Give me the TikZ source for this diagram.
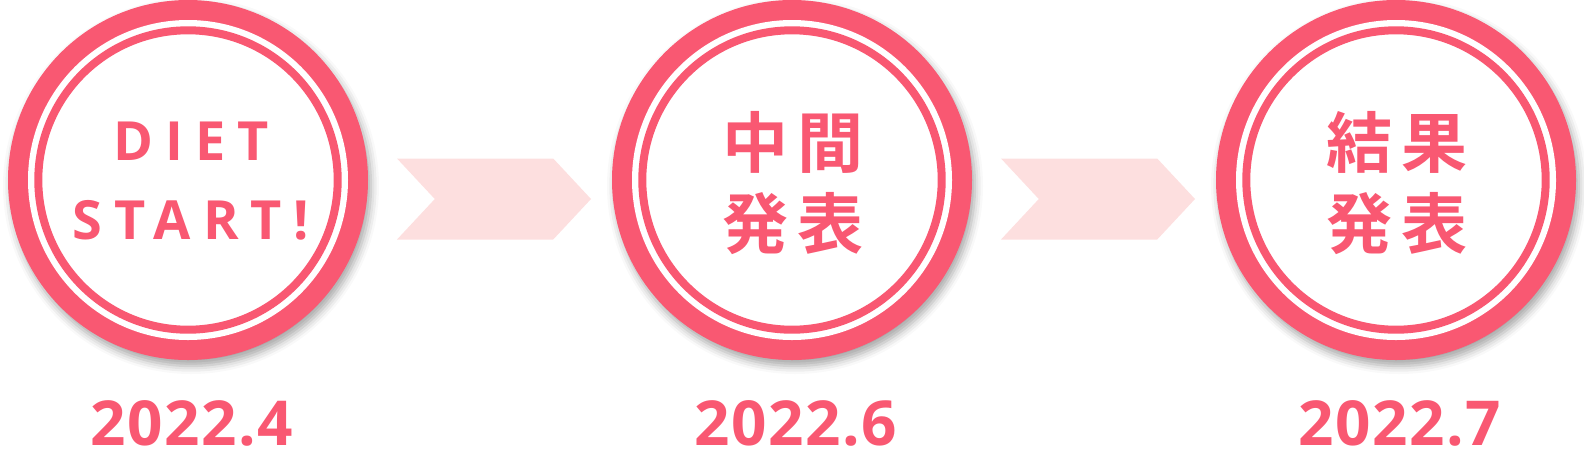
\documentclass[tikz,border=0pt]{standalone}
\usepackage{fontspec}
\setmainfont{Open Sans}[UprightFont=* Bold]
\newfontfamily\jpfont{Noto Sans CJK JP Bold}
\usetikzlibrary{positioning,shapes.symbols,shadows.blur}

\definecolor{pinkmain}{RGB}{249,88,114}
\definecolor{pinklight}{RGB}{253,223,223}

\tikzset{
  badge/.style={circle,fill=pinkmain,minimum size=180pt,inner sep=0pt,outer sep=0pt,
    blur shadow={shadow xshift=1.5pt,shadow yshift=-3pt,shadow blur radius=4pt,shadow opacity=35},
    path picture={
      \fill[white] (path picture bounding box.center) circle (80pt);
      \draw[pinkmain,line width=4pt] (path picture bounding box.center) circle (74.85pt);
    }},
  latintext/.style={text=pinkmain,align=center,inner sep=0pt,
    font=\fontsize{27pt}{39.8pt}\selectfont\addfontfeatures{LetterSpace=22}},
  jptext/.style={text=pinkmain,align=center,inner sep=0pt,
    font=\jpfont\fontsize{33pt}{40.3pt}\selectfont},
  chevron/.style={signal,signal from=west,signal to=east,signal pointer angle=94,
    fill=pinklight,minimum width=97pt,minimum height=40.5pt,inner sep=0pt},
  datelabel/.style={text=pinkmain,inner sep=0pt,xshift=2pt,
    font=\fontsize{31pt}{31pt}\selectfont\addfontfeatures{LetterSpace=2.5}}
}

\begin{document}
\begin{tikzpicture}[x=0.5pt,y=-0.5pt]

  \useasboundingbox (0,0) rectangle (1584,462);

  % badges
  \node[badge] (start)  at (188,180) {};
  \node[badge] (mid)    at (792,180) {};
  \node[badge] (result) at (1396,180) {};

  \node[latintext] (start-txt)  at (191,181) {DIET\\START!};
  \node[jptext]    (mid-txt)    at (793,183) {中\hspace{5pt}間\\発\hspace{5pt}表};
  \node[jptext]    (result-txt) at (1397,183) {結\hspace{5pt}果\\発\hspace{5pt}表};

  % arrows
  \node[chevron] (arr1) at (494,199) {};
  \node[chevron] (arr2) at (1098,199) {};

  % dates
  \node[datelabel,below=20pt of start]  (d1) {2022.4};
  \node[datelabel,below=20pt of mid]    (d2) {2022.6};
  \node[datelabel,below=20pt of result] (d3) {2022.7};

\end{tikzpicture}
\end{document}
